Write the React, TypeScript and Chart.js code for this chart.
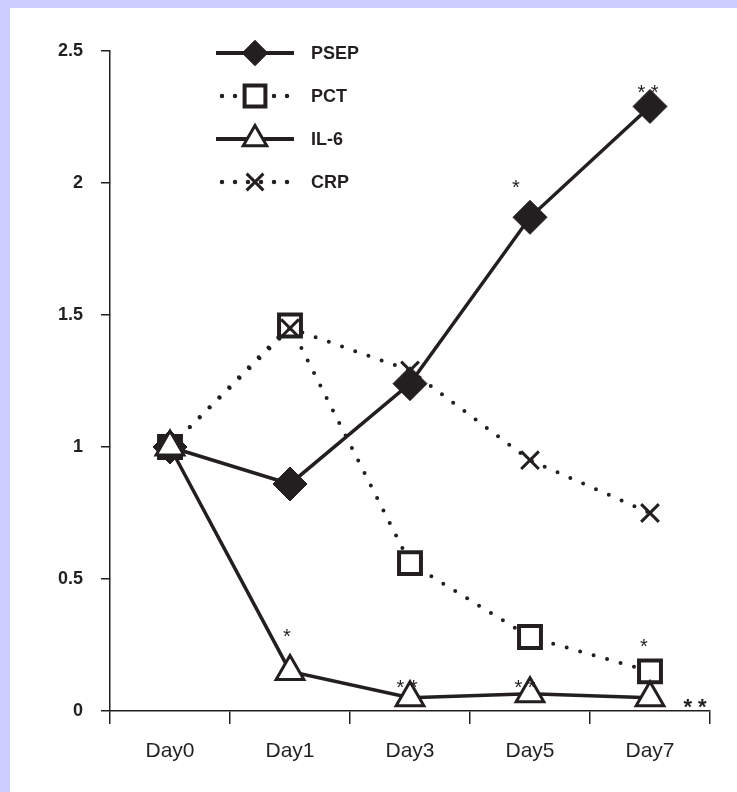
import React, { useEffect, useRef } from 'react';
import { Chart, registerables } from 'chart.js';
import { drawPoint } from 'chart.js/helpers';

Chart.register(...registerables);

// ---- data ----
const DAYS = ['Day0', 'Day1', 'Day3', 'Day5', 'Day7'];
const SERIES_NAMES = ['PSEP', 'PCT', 'IL-6', 'CRP'];
const PSEP = [1.0, 0.86, 1.24, 1.87, 2.29];
const PCT = [1.0, 1.46, 0.56, 0.28, 0.15];
const IL6 = [1.0, 0.15, 0.05, 0.065, 0.05];
const CRP = [1.0, 1.45, 1.29, 0.95, 0.75];
const Y_TICK_LABELS = ['0', '0.5', '1', '1.5', '2', '2.5'];
const NOTE_DAYS = ['Day1', 'Day3', 'Day5', 'Day5', 'Day7', 'Day7', 'Day7'];
const NOTE_VALUES = [0.3, 0.105, 0.105, 2.0, 2.36, 0.26, 0.03];
const NOTE_TEXTS = ['*', '* *', '* *', '*', '* *', '*', '* *'];

const INK = '#231f20';
const FONT = "'Liberation Sans', Arial, sans-serif";

// style-only: horizontal nudges for the significance marks
const NOTE_SHIFT = [-3, -3, -5, -14, -2, -6, 45];
const NOTE_BOLD = [false, false, false, false, false, false, true];

const MARKERS: any[] = [
  { pointStyle: 'rectRot', radius: 17, fill: INK, borderWidth: 1, dotted: false, legendScale: 0.75 },
  { pointStyle: 'rect', radius: 15.5, fill: '#ffffff', borderWidth: 4, dotted: true, legendScale: 0.95 },
  { pointStyle: 'triangle', radius: 16, fill: '#ffffff', borderWidth: 3, dotted: false, legendScale: 0.85 },
  { pointStyle: 'crossRot', radius: 12.5, fill: INK, borderWidth: 3, dotted: true, legendScale: 0.95 },
];

const overlayPlugin = {
  id: 'overlay',
  afterDatasetsDraw(chart: any) {
    const { ctx, chartArea, scales } = chart;
    ctx.save();
    // significance marks
    NOTE_TEXTS.forEach((t, i) => {
      const x = scales.x.getPixelForValue(DAYS.indexOf(NOTE_DAYS[i])) + NOTE_SHIFT[i];
      const y = scales.y.getPixelForValue(NOTE_VALUES[i]);
      ctx.fillStyle = INK;
      ctx.font = (NOTE_BOLD[i] ? 'bold 22px ' : '20px ') + FONT;
      ctx.textAlign = 'center';
      ctx.textBaseline = 'alphabetic';
      ctx.fillText(t, x, y + 11);
    });
    // legend
    const lx0 = chartArea.left + 106;
    const lx1 = chartArea.left + 184;
    const lxm = (lx0 + lx1) / 2;
    SERIES_NAMES.forEach((name, i) => {
      const m = MARKERS[i];
      const y = chartArea.top + 2 + i * 43;
      ctx.strokeStyle = INK;
      ctx.lineCap = m.dotted ? 'round' : 'butt';
      ctx.lineWidth = m.dotted ? 4.5 : 4;
      ctx.setLineDash(m.dotted ? [0, 13] : []);
      ctx.beginPath();
      ctx.moveTo(lx0 + (m.dotted ? 6 : 0), y);
      ctx.lineTo(lx1, y);
      ctx.stroke();
      ctx.setLineDash([]);
      ctx.lineCap = 'butt';
      ctx.fillStyle = m.fill;
      ctx.lineWidth = m.borderWidth;
      drawPoint(ctx, { pointStyle: m.pointStyle, radius: m.radius * m.legendScale, borderWidth: m.borderWidth, rotation: 0 }, lxm, y);
      ctx.fillStyle = INK;
      ctx.font = 'bold 18px ' + FONT;
      ctx.textAlign = 'left';
      ctx.textBaseline = 'middle';
      ctx.fillText(name, lx1 + 17, y + 1);
    });
    ctx.restore();
  },
};

function makeDataset(label: string, data: number[], idx: number, order: number) {
  const m = MARKERS[idx];
  return {
    label,
    data,
    order,
    borderColor: INK,
    borderWidth: m.dotted ? 4 : 3.5,
    borderDash: m.dotted ? [0, 14] : [],
    borderCapStyle: m.dotted ? 'round' : 'butt',
    pointStyle: m.pointStyle,
    pointRadius: m.radius,
    pointHoverRadius: m.radius,
    pointBackgroundColor: m.fill,
    pointBorderColor: INK,
    pointBorderWidth: m.borderWidth,
    tension: 0,
    fill: false,
  };
}

export default function App() {
  const ref = useRef<HTMLCanvasElement>(null);
  useEffect(() => {
    document.body.style.margin = '0';
    document.body.style.background = '#ccccff';
    const chart = new Chart(ref.current as HTMLCanvasElement, {
      type: 'line',
      data: {
        labels: DAYS,
        datasets: [
          makeDataset(SERIES_NAMES[0], PSEP, 0, 1),
          makeDataset(SERIES_NAMES[1], PCT, 1, 3),
          makeDataset(SERIES_NAMES[2], IL6, 2, 0),
          makeDataset(SERIES_NAMES[3], CRP, 3, 2),
        ] as any,
      },
      options: {
        animation: false,
        responsive: true,
        maintainAspectRatio: false,
        layout: { padding: { top: 43, right: 27, left: 0, bottom: 0 } },
        plugins: { legend: { display: false }, tooltip: { enabled: false } },
        scales: {
          x: {
            type: 'category',
            offset: true,
            afterFit: (s: any) => { s.height = 81; },
            grid: { offset: true, drawOnChartArea: false, drawTicks: true, tickLength: 13, color: INK, lineWidth: 1.5 },
            border: { display: true, color: INK, width: 1.5 },
            ticks: { color: INK, font: { family: FONT, size: 21 }, padding: 15, maxRotation: 0 },
          },
          y: {
            type: 'linear',
            min: 0,
            max: 2.5,
            afterFit: (s: any) => { s.width = 100; },
            afterBuildTicks: (s: any) => { s.ticks = Y_TICK_LABELS.map((l) => ({ value: parseFloat(l) })); },
            grid: { drawOnChartArea: false, drawTicks: true, tickLength: 9, color: INK, lineWidth: 1.5 },
            border: { display: true, color: INK, width: 1.5 },
            ticks: {
              color: INK,
              font: { family: FONT, size: 18, weight: 'bold' },
              padding: 18,
              callback: (v: any) => Y_TICK_LABELS[Y_TICK_LABELS.map(parseFloat).indexOf(Number(v))] ?? '',
            },
          },
        },
      },
      plugins: [overlayPlugin],
    });
    return () => chart.destroy();
  }, []);
  return (
    <div style={{ paddingTop: 8, paddingLeft: 10, background: '#ccccff' }}>
      <div style={{ width: 727, height: 784, background: '#ffffff', position: 'relative' }}>
        <canvas ref={ref} style={{ display: 'block' }} />
      </div>
    </div>
  );
}
